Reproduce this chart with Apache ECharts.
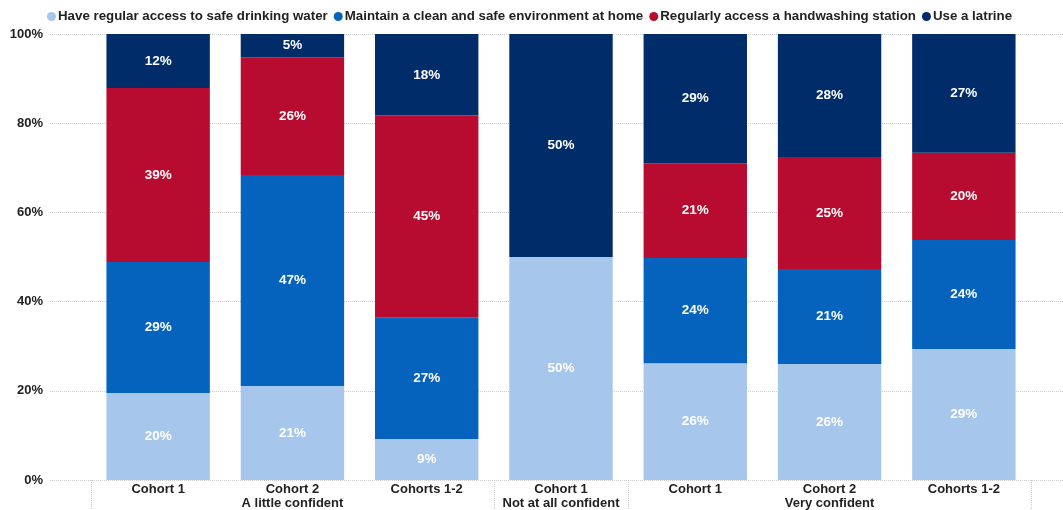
<!DOCTYPE html>
<html><head><meta charset="utf-8">
<script src="https://cdn.jsdelivr.net/npm/echarts@6/dist/echarts.min.js"></script>
<style>html,body{margin:0;padding:0;background:#fff}#c{width:1063px;height:510px}</style>
</head><body><div id="c"></div>
<script>
const categories = ['Cohort 1', 'Cohort 2\nA little confident', 'Cohorts 1-2', 'Cohort 1\nNot at all confident', 'Cohort 1', 'Cohort 2\nVery confident', 'Cohorts 1-2'];
const seriesNames = ['Have regular access to safe drinking water', 'Maintain a clean and safe environment at home', 'Regularly access a handwashing station', 'Use a latrine'];
const water = [19.5, 21.1, 9.2, 50, 26.2, 26, 29.4];
const clean = [29.4, 47.3, 27.3, 0, 23.6, 21.3, 24.4];
const handwash = [39, 26.4, 45.2, 0, 21.2, 25.1, 19.6];
const latrine = [12.1, 5.2, 18.3, 50, 29, 27.6, 26.6];
const yTicks = [0, 20, 40, 60, 80, 100];
const colors = ['#a6c6eb', '#0563bd', '#b70c2f', '#012c6a'];
const font = 'Liberation Sans, Arial, sans-serif';

const chart = echarts.init(document.getElementById('c'));
const dataArr = [water, clean, handwash, latrine];
const series = seriesNames.map((n, i) => ({
  name: n, type: 'bar', stack: 's', xAxisIndex: 1, yAxisIndex: 1,
  barCategoryGap: '23%',
  itemStyle: { color: colors[i] },
  label: {
    show: true, position: 'inside', color: '#fff', fontWeight: 'bold', fontSize: 13.5, fontFamily: font,
    formatter: p => p.value > 0 ? Math.round(p.value) + '%' : ''
  },
  data: dataArr[i]
}));
chart.setOption({
  animation: false,
  color: colors,
  legend: {
    top: 5, left: 42, icon: 'circle', itemWidth: 9, itemHeight: 9, itemGap: 6,
    textStyle: { fontWeight: 'bold', fontSize: 13.3, color: '#222', fontFamily: font, padding: [0, 0, 0, -3] },
    data: seriesNames
  },
  grid: [
    { left: 50, right: 0, top: 34, bottom: 30, containLabel: false, outerBoundsMode: 'none' },
    { left: 91, right: 32, top: 34, bottom: 30, containLabel: false, outerBoundsMode: 'none' }
  ],
  xAxis: [
    { type: 'value', gridIndex: 0, show: false, min: 0, max: 1 },
    { type: 'category', gridIndex: 1, data: categories,
      axisLine: { show: false },
      axisTick: { show: true, length: 30, interval: (i) => i === 0 || i === 3 || i === 4 || i === 7,
        lineStyle: { type: 'dotted', color: '#ccc' } },
      axisLabel: { interval: 0, color: '#222', fontWeight: 'bold', fontSize: 13, fontFamily: font, margin: 3, lineHeight: 13.5 }
    }
  ],
  yAxis: [
    { type: 'value', gridIndex: 0, min: 0, max: 100, interval: 20,
      axisLine: { show: false }, axisTick: { show: false },
      axisLabel: { formatter: v => yTicks.includes(v) ? v + '%' : '', color: '#222', fontWeight: 'bold', fontSize: 13, fontFamily: font, margin: 7 },
      splitLine: { lineStyle: { type: 'dotted', color: '#ccc' } }
    },
    { type: 'value', gridIndex: 1, min: 0, max: 100, show: false }
  ],
  series: series
});
</script></body></html>
